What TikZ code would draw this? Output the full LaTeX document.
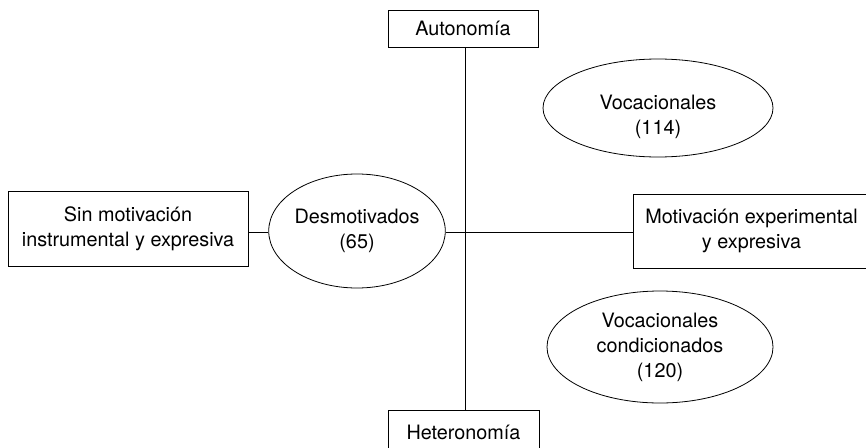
\documentclass[tikz,border=0pt]{standalone}
\usepackage{fontspec}
\setmainfont{TeX Gyre Heros}
\usetikzlibrary{shapes.geometric}
\begin{document}
\begin{tikzpicture}[x=1pt,y=-1pt,
  every node/.style={font=\fontsize{19.8}{25}\selectfont, align=center, inner sep=0pt},
  box/.style={draw, line width=0.8pt, rectangle},
  oval/.style={draw, line width=0.8pt, ellipse},
  conn/.style={line width=0.8pt}]
\useasboundingbox (0,0) rectangle (866,447);
\clip (0,0) rectangle (866,447);
\node[box, minimum width=150pt, minimum height=37pt] (aut) at (463,28.5) {Autonomía};
\node[box, minimum width=151pt, minimum height=45pt] (het) at (463.5,432.5) {Heteronomía};
\node[box, minimum width=240pt, minimum height=75pt] (sin) at (128,228.5) {Sin motivación\\instrumental y expresiva};
\node[oval, minimum width=176pt, minimum height=114pt] (des) at (357,231) {Desmotivados\\(65)};
\node[box, minimum width=237pt, minimum height=74pt] (mot) at (751.5,231) {Motivación experimental\\y expresiva};
\node[oval, minimum width=230pt, minimum height=98pt] (voc) at (658,108) {};
\node (voct) at (658,116.5) {Vocacionales\\(114)};
\node[oval, minimum width=226pt, minimum height=112pt] (vcc) at (660,347) {Vocacionales\\condicionados\\(120)};
\coordinate (c) at (465,232);
\draw[conn] (aut.south -| c) -- (het.north -| c);
\draw[conn] (sin.east |- c) -- (des.west |- c);
\draw[conn] (des.east |- c) -- (mot.west |- c);
\end{tikzpicture}
\end{document}
